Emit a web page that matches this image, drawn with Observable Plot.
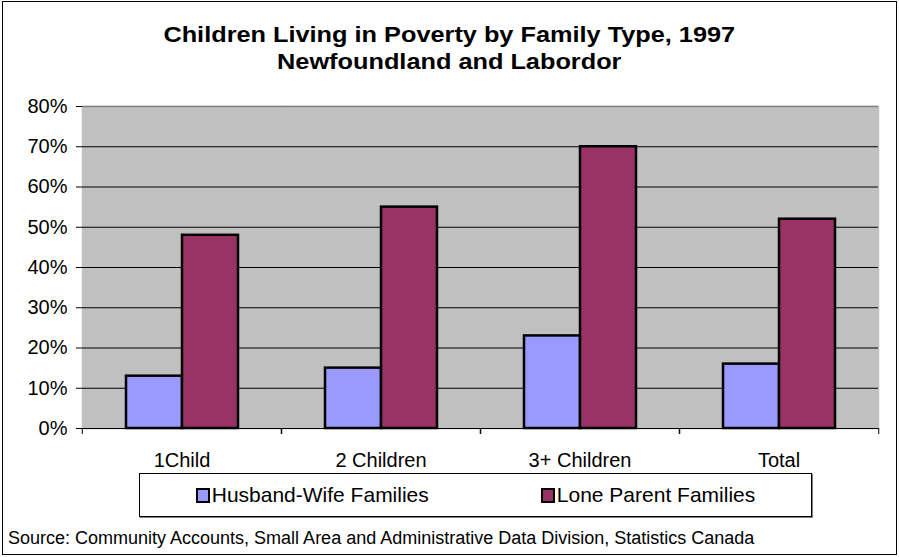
<!DOCTYPE html>
<html><head><meta charset="utf-8">
<script src="https://cdn.jsdelivr.net/npm/d3@7"></script>
<script src="https://cdn.jsdelivr.net/npm/@observablehq/plot@0.6"></script>
<style>
html,body{margin:0;padding:0;background:#fff;}
#wrap{position:relative;width:899px;height:557px;font-family:"Liberation Sans",Arial,sans-serif;color:#000;overflow:hidden;background:#fff;}
#border{position:absolute;left:2px;top:1px;width:893px;height:552px;border:1px solid #000;}
#title{position:absolute;left:0;top:20.5px;width:899px;text-align:center;font-weight:bold;font-size:22px;line-height:27.5px;transform:scaleX(1.15);transform-origin:451px 0;}
#chart{position:absolute;left:0;top:86px;}
#legend{position:absolute;left:139px;top:473px;width:671px;height:42px;border:1px solid #000;background:#fff;display:flex;align-items:center;justify-content:center;gap:112px;font-size:21px;box-shadow:1px 1px 0 #808080;}
.item{display:flex;align-items:center;}
.sw{width:10px;height:11px;border:2px solid #000;margin-right:2px;}
#source{position:absolute;left:8px;top:527.5px;font-size:18px;line-height:20px;white-space:nowrap;}
</style></head>
<body>
<div id="wrap">
  <div id="border"></div>
  <div id="title">Children Living in Poverty by Family Type, 1997<br>Newfoundland and Labordor</div>
  <div id="chart"></div>
  <div id="legend"></div>
  <div id="source">Source: Community Accounts, Small Area and Administrative Data Division, Statistics Canada</div>
</div>
<script>
const categories = ["1Child", "2 Children", "3+ Children", "Total"];
const series = ["Husband-Wife Families", "Lone Parent Families"];
const husbandWife = [0.13, 0.15, 0.23, 0.16];
const loneParent = [0.48, 0.55, 0.70, 0.52];
const yTicks = [0, 0.1, 0.2, 0.3, 0.4, 0.5, 0.6, 0.7, 0.8];
const seriesColors = ["#9999FF", "#993366"];

const data = [];
categories.forEach((c, i) => {
  data.push({category: c, series: series[0], value: husbandWife[i]});
  data.push({category: c, series: series[1], value: loneParent[i]});
});

const W = 899, ML = 81, MR = 20;
const step = (W - ML - MR) / categories.length;
const frameGray = "#808080";
const plotBg = "#c0c0c0";

const chart = Plot.plot({
  width: W, height: 382,
  marginLeft: ML, marginRight: MR, marginTop: 20, marginBottom: 40,
  style: {fontFamily: '"Liberation Sans", Arial, sans-serif', fontSize: "20px", color: "#000", background: "transparent", overflow: "visible"},
  fx: {domain: categories, padding: 0, label: null, axis: null},
  x: {domain: series, paddingInner: 0, paddingOuter: 0.75, axis: null},
  y: {domain: [0, 0.8], label: null, axis: null},
  color: {domain: series, range: seriesColors},
  marks: [
    Plot.frame({fill: plotBg, stroke: plotBg, strokeWidth: 1.5}),
    Plot.ruleY(yTicks.slice(1, -1), {stroke: "#000", strokeWidth: 1}),
    Plot.ruleY(yTicks.slice(-1), {stroke: frameGray, strokeWidth: 1.5}),
    Plot.ruleX(categories.slice(0, 1), {fx: d => d, dx: -step / 2, stroke: frameGray, strokeWidth: 1.5}),
    Plot.ruleX(categories.slice(-1), {fx: d => d, dx: step / 2, stroke: frameGray, strokeWidth: 1.5}),
    Plot.barY(data, {fx: "category", x: "series", y: "value", fill: "series", stroke: "#000", strokeWidth: 2.5}),
    Plot.ruleY([0], {stroke: "#000"}),
    Plot.axisY({ticks: yTicks, tickFormat: d3.format(".0%"), tickSize: 6, tickPadding: 9, label: null}),
    Plot.axisFx({anchor: "bottom", tickSize: 0, tickPadding: 24, label: null}),
    Plot.axisFx({anchor: "bottom", tickSize: 6, tickFormat: () => "", dx: -step / 2, label: null}),
    Plot.axisFx({anchor: "bottom", tickSize: 6, tickFormat: () => "", dx: step / 2, label: null})
  ]
});
document.getElementById("chart").appendChild(chart);

const legend = document.getElementById("legend");
series.forEach((s, i) => {
  const item = document.createElement("div");
  item.className = "item";
  const sw = document.createElement("span");
  sw.className = "sw";
  sw.style.background = seriesColors[i];
  const t = document.createElement("span");
  t.textContent = s;
  item.appendChild(sw); item.appendChild(t);
  legend.appendChild(item);
});
</script>
</body></html>
